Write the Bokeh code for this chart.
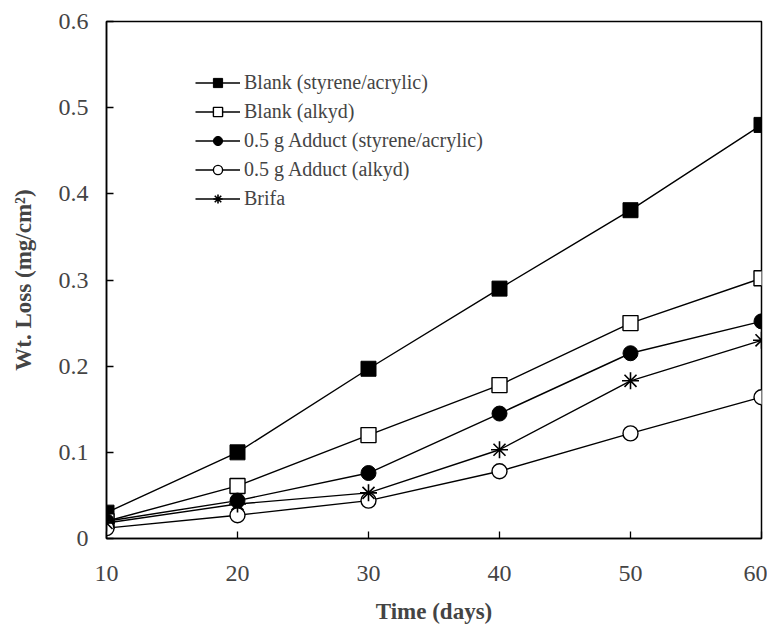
from bokeh.plotting import figure
from bokeh.models import Legend, LegendItem, Range1d, FixedTicker
from bokeh.embed import file_html
from bokeh.resources import INLINE

days = [10, 20, 30, 40, 50, 60]
blank_sty = [0.030, 0.100, 0.197, 0.290, 0.381, 0.480]
blank_alk = [0.020, 0.061, 0.120, 0.178, 0.250, 0.302]
add_sty = [0.020, 0.044, 0.076, 0.145, 0.215, 0.252]
add_alk = [0.012, 0.027, 0.044, 0.078, 0.122, 0.164]
brifa = [0.018, 0.040, 0.053, 0.103, 0.183, 0.230]
labels = ["Blank (styrene/acrylic)", "Blank (alkyd)", "0.5 g Adduct (styrene/acrylic)",
          "0.5 g Adduct (alkyd)", "Brifa"]
x_ticks = [10, 20, 30, 40, 50, 60]
y_ticks = [0, 0.1, 0.2, 0.3, 0.4, 0.5, 0.6]

FONT = "Liberation Serif"

p = figure(width=767, height=626, output_backend="svg", toolbar_location=None,
           x_range=Range1d(10, 60), y_range=Range1d(0, 0.6),
           min_border_left=106, min_border_right=6, min_border_top=21, min_border_bottom=87)
p.outline_line_color = "black"
p.outline_line_width = 1.5
p.xgrid.visible = False
p.ygrid.visible = False
p.background_fill_color = "white"

items = []
series = [blank_sty, blank_alk, add_sty, add_alk, brifa]
for vals, lab in zip(series, labels):
    ln = p.line(days, vals, line_color="black", line_width=1.4)
    rs = [ln]
    if lab == labels[0]:
        rs.append(p.scatter(days, vals, marker="square", size=15, fill_color="black", line_color="black"))
    elif lab == labels[1]:
        rs.append(p.scatter(days, vals, marker="square", size=15, fill_color="white", line_color="black", line_width=1.4))
    elif lab == labels[2]:
        rs.append(p.scatter(days, vals, marker="circle", size=15, fill_color="black", line_color="black"))
    elif lab == labels[3]:
        rs.append(p.scatter(days, vals, marker="circle", size=15, fill_color="white", line_color="black", line_width=1.4))
    else:
        rs.append(p.scatter(days, vals, marker="asterisk", size=17, line_color="black", line_width=1.6))
    items.append(LegendItem(label=lab, renderers=rs))

legend = Legend(items=items, location=(89, 328), background_fill_alpha=0, border_line_alpha=0,
                label_text_font=FONT, label_text_font_size="20px", glyph_width=45, glyph_height=23,
                label_height=23, spacing=6, padding=0, label_standoff=4, margin=0)
p.add_layout(legend)

for ax in (p.xaxis[0], p.yaxis[0]):
    ax.axis_line_width = 1.5
    ax.major_tick_in = 7
    ax.major_tick_out = 0
    ax.minor_tick_in = 0
    ax.minor_tick_out = 0
    ax.major_tick_line_width = 1.3
    ax.major_label_text_font = FONT
    ax.major_label_text_font_size = "24px"
    ax.axis_label_text_font = FONT
    ax.axis_label_text_font_size = "23px"
    ax.axis_label_text_font_style = "bold"

p.xaxis.ticker = FixedTicker(ticks=x_ticks)
p.yaxis.ticker = FixedTicker(ticks=y_ticks)
p.yaxis.major_label_overrides = {0: "0"}
p.xaxis.major_label_standoff = 27
p.yaxis.major_label_standoff = 18
p.xaxis.axis_label = "Time (days)"
p.yaxis.axis_label = "Wt. Loss (mg/cm²)"
p.xaxis.axis_label_standoff = 15
p.yaxis.axis_label_standoff = 20

open("out.html", "w").write(file_html(p, INLINE))
